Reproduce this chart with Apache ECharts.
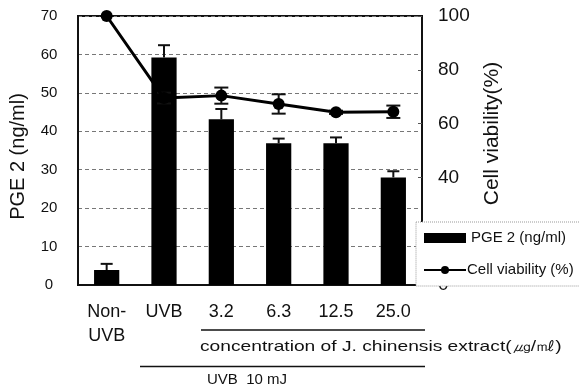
<!DOCTYPE html>
<html>
<head>
<meta charset="utf-8">
<script src="https://cdn.jsdelivr.net/npm/echarts@6/dist/echarts.min.js"></script>
<style>
  html, body { margin: 0; padding: 0; background: #fff; }
  #chart { width: 579px; height: 390px; }
</style>
</head>
<body>
<div id="chart"></div>
<script>
// Treatment groups along the x axis
const categories = ['Non-\nUVB', 'UVB', '3.2', '6.3', '12.5', '25.0'];

// PGE 2 level (ng/ml), mean and upper error
const pgeValues = [3.9, 59.2, 43.1, 36.9, 36.9, 28.0];
const pgeErrors = [1.6, 3.2, 2.7, 1.2, 1.5, 1.6];

// Cell viability (%), mean and symmetric error
const viabilityValues = [100, 69.5, 70.4, 67.3, 64.2, 64.4];
const viabilityErrors = [0, 2, 3, 3.6, 0.6, 2.3];

// Axis ticks
const leftTicks = { min: 0, max: 70, interval: 10 };
const rightTicks = { min: 0, max: 100, interval: 20 };

const FONT = '"Liberation Sans", Arial, sans-serif';
const INK = '#111';

const chart = echarts.init(document.getElementById('chart'), null, { renderer: 'canvas' });

// Error bar renderer; `both` draws the lower whisker as well
function errorBar(values, errors, both, capHalf) {
  return function (params, api) {
    const i = api.value(0);
    const v = values[i];
    const e = errors[i];
    const top = api.coord([i, v + e]);
    const mid = api.coord([i, v]);
    const bottom = both ? api.coord([i, v - e]) : mid;
    const style = { stroke: INK, lineWidth: 2 };
    const children = [
      { type: 'line', shape: { x1: top[0], y1: top[1], x2: bottom[0], y2: bottom[1] }, style },
      { type: 'line', shape: { x1: top[0] - capHalf, y1: top[1], x2: top[0] + capHalf, y2: top[1] }, style }
    ];
    if (both) {
      children.push({ type: 'line', shape: { x1: bottom[0] - capHalf, y1: bottom[1], x2: bottom[0] + capHalf, y2: bottom[1] }, style });
    }
    return { type: 'group', children };
  };
}

const idx = categories.map((c, i) => [i]);

chart.setOption({
  backgroundColor: '#fff',
  animation: false,
  textStyle: { fontFamily: FONT, color: INK },
  grid: {
    left: 76, right: 157, top: 16, bottom: 105,
    show: true, borderColor: INK, borderWidth: 2, backgroundColor: 'transparent'
  },
  legend: {
    orient: 'vertical',
    left: 416, top: 222,
    itemWidth: 42, itemHeight: 10, itemGap: 12,
    padding: [6, 40, 6, 7],
    backgroundColor: '#fff',
    borderColor: '#999', borderWidth: 1, borderType: 'dotted',
    textStyle: { fontFamily: FONT, fontSize: 15, color: INK, lineHeight: 20 },
    data: [
      { name: 'PGE 2 (ng/ml)', icon: 'rect' },
      { name: 'Cell viability (%)', textStyle: { padding: [0, 0, 0, -4] } }
    ]
  },
  xAxis: {
    type: 'category',
    data: categories,
    axisLine: { lineStyle: { color: INK, width: 2 } },
    axisTick: { show: false },
    axisLabel: { fontFamily: FONT, fontSize: 18, color: INK, margin: 15, lineHeight: 24, interval: 0 }
  },
  yAxis: [
    {
      type: 'value',
      min: leftTicks.min, max: leftTicks.max, interval: leftTicks.interval,
      name: 'PGE 2 (ng/ml)',
      nameLocation: 'middle', nameGap: 50, nameRotate: 90,
      nameTextStyle: { fontFamily: FONT, fontSize: 20, color: INK, padding: [0, 12, 0, 0] },
      axisLine: { show: true, lineStyle: { color: INK, width: 2 } },
      axisTick: { show: false },
      axisLabel: { fontFamily: FONT, fontSize: 15, color: INK, margin: 29, align: 'center' },
      splitLine: { show: true, lineStyle: { color: '#777', width: 1, type: [4, 3] } }
    },
    {
      type: 'value',
      min: rightTicks.min, max: rightTicks.max, interval: rightTicks.interval,
      name: 'Cell viability(%)',
      nameLocation: 'middle', nameGap: 60, nameRotate: 90,
      nameTextStyle: { fontFamily: FONT, fontSize: 21, color: INK, padding: [0, 0, 38, 34] },
      axisLine: { show: true, lineStyle: { color: INK, width: 2 } },
      axisTick: { show: true, inside: true, length: 4, lineStyle: { color: '#555' } },
      axisLabel: { fontFamily: FONT, fontSize: 19, color: INK, margin: 16 },
      splitLine: { show: false }
    }
  ],
  series: [
    {
      name: 'PGE 2 (ng/ml)',
      type: 'bar',
      data: pgeValues,
      barWidth: '44%',
      itemStyle: { color: '#000' },
      z: 2
    },
    {
      type: 'custom',
      renderItem: errorBar(pgeValues, pgeErrors, false, 6),
      data: idx,
      encode: { x: 0 },
      silent: true,
      z: 3
    },
    {
      type: 'custom',
      yAxisIndex: 1,
      renderItem: errorBar(viabilityValues, viabilityErrors, true, 7),
      data: idx,
      encode: { x: 0 },
      silent: true,
      z: 4
    },
    {
      name: 'Cell viability (%)',
      type: 'line',
      yAxisIndex: 1,
      data: viabilityValues,
      symbol: 'circle',
      symbolSize: 12,
      clip: false,
      lineStyle: { color: '#000', width: 3 },
      itemStyle: { color: '#000' },
      z: 5
    }
  ],
  graphic: [
    { type: 'line', shape: { x1: 201, y1: 330, x2: 425, y2: 330 }, style: { stroke: INK, lineWidth: 1.5 } },
    {
      type: 'text', x: 200, y: 339, scaleX: 1.28,
      style: {
        text: 'concentration of J. chinensis extract(㎍/㎖)',
        font: '15px ' + FONT, fill: INK, verticalAlign: 'top', align: 'left'
      }
    },
    { type: 'line', shape: { x1: 140, y1: 366.5, x2: 425, y2: 366.5 }, style: { stroke: INK, lineWidth: 1.5 } },
    {
      type: 'text', x: 207, y: 372,
      style: { text: 'UVB  10 mJ', font: '15px ' + FONT, fill: INK, verticalAlign: 'top', align: 'left' }
    }
  ]
});
</script>
</body>
</html>
